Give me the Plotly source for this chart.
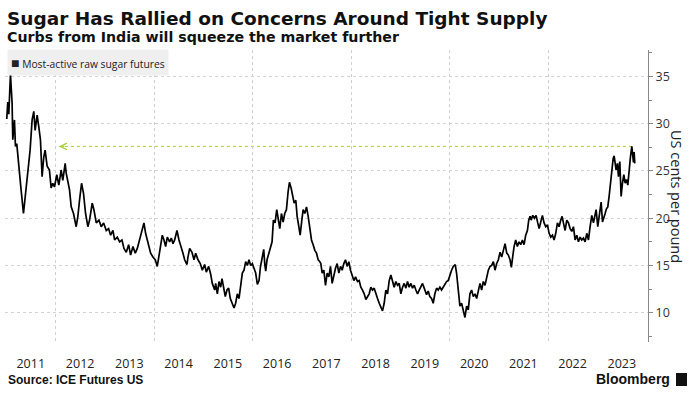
import datetime as dt
import plotly.graph_objects as go

# ---------------- data ----------------
# dates are decimal years, values are US cents per pound
dates = [
    2011.011, 2011.031, 2011.052, 2011.086, 2011.119, 2011.133, 2011.167, 2011.187, 2011.214, 2011.235,
    2011.269, 2011.302, 2011.350, 2011.390, 2011.438, 2011.485, 2011.526, 2011.560, 2011.587, 2011.628,
    2011.661, 2011.695, 2011.729, 2011.763, 2011.790, 2011.831, 2011.878, 2011.912, 2011.946, 2011.980,
    2012.027, 2012.068, 2012.115, 2012.149, 2012.197, 2012.217, 2012.251, 2012.285, 2012.319, 2012.366,
    2012.420, 2012.454, 2012.488, 2012.529, 2012.569, 2012.610, 2012.657, 2012.691, 2012.745, 2012.779,
    2012.827, 2012.881, 2012.928, 2012.976,
    2013.030, 2013.077, 2013.118, 2013.165, 2013.199, 2013.253, 2013.301, 2013.348, 2013.389, 2013.436,
    2013.484, 2013.524, 2013.572, 2013.619, 2013.660, 2013.694, 2013.741, 2013.795, 2013.829, 2013.877,
    2013.931, 2013.978,
    2014.026, 2014.066, 2014.100, 2014.134, 2014.168, 2014.202, 2014.236, 2014.270, 2014.317, 2014.351,
    2014.385, 2014.419, 2014.466, 2014.507, 2014.554, 2014.588, 2014.622, 2014.669, 2014.690, 2014.724,
    2014.771, 2014.812, 2014.846, 2014.893, 2014.940, 2014.981,
    2015.029, 2015.062, 2015.110, 2015.150, 2015.184, 2015.232, 2015.252, 2015.286, 2015.320, 2015.354,
    2015.381, 2015.415, 2015.448, 2015.482, 2015.516, 2015.550, 2015.584, 2015.625, 2015.658, 2015.692,
    2015.726, 2015.760, 2015.794, 2015.828, 2015.862, 2015.896, 2015.929, 2015.963, 2015.997,
    2016.031, 2016.065, 2016.099, 2016.133, 2016.160, 2016.194, 2016.228, 2016.248, 2016.268, 2016.295,
    2016.329, 2016.363, 2016.397, 2016.424, 2016.458, 2016.492, 2016.519, 2016.553, 2016.587, 2016.621,
    2016.654, 2016.688, 2016.722, 2016.749, 2016.783, 2016.810, 2016.844, 2016.878, 2016.905, 2016.939,
    2016.966,
    2017.000, 2017.027, 2017.061, 2017.095, 2017.129, 2017.163, 2017.196, 2017.230, 2017.264, 2017.298,
    2017.332, 2017.366, 2017.386, 2017.413, 2017.447, 2017.481, 2017.515, 2017.549, 2017.582, 2017.616,
    2017.650, 2017.684, 2017.718, 2017.752, 2017.786, 2017.820, 2017.853, 2017.887, 2017.921, 2017.955,
    2017.989,
    2018.023, 2018.057, 2018.091, 2018.131, 2018.165, 2018.199, 2018.233, 2018.267, 2018.301, 2018.334,
    2018.368, 2018.402, 2018.436, 2018.470, 2018.504, 2018.538, 2018.572, 2018.605, 2018.639, 2018.673,
    2018.707, 2018.741, 2018.775, 2018.809, 2018.843, 2018.876, 2018.910, 2018.944, 2018.978,
    2019.012, 2019.046, 2019.080, 2019.114, 2019.147, 2019.181, 2019.215, 2019.249, 2019.283, 2019.317,
    2019.351, 2019.385, 2019.418, 2019.452, 2019.486, 2019.534, 2019.567, 2019.601, 2019.635, 2019.669,
    2019.703, 2019.737, 2019.771, 2019.805, 2019.838, 2019.872, 2019.906, 2019.940, 2019.974,
    2020.008, 2020.042, 2020.076, 2020.116, 2020.143, 2020.177, 2020.211, 2020.245, 2020.279, 2020.313,
    2020.347, 2020.380, 2020.414, 2020.448, 2020.482, 2020.516, 2020.550, 2020.584, 2020.618, 2020.651,
    2020.685, 2020.719, 2020.753, 2020.787, 2020.821, 2020.855, 2020.889, 2020.922, 2020.956, 2020.990,
    2021.024, 2021.058, 2021.092, 2021.126, 2021.160, 2021.193, 2021.227, 2021.254, 2021.281, 2021.309,
    2021.342, 2021.376, 2021.410, 2021.444, 2021.478, 2021.512, 2021.546, 2021.580, 2021.607, 2021.634,
    2021.655, 2021.689, 2021.723, 2021.757, 2021.790, 2021.818, 2021.851, 2021.885, 2021.919, 2021.953,
    2021.987,
    2022.021, 2022.055, 2022.089, 2022.122, 2022.156, 2022.190, 2022.224, 2022.258, 2022.285, 2022.312,
    2022.346, 2022.380, 2022.414, 2022.448, 2022.482, 2022.515, 2022.549, 2022.583, 2022.617, 2022.651,
    2022.685, 2022.719, 2022.752, 2022.786, 2022.820, 2022.854, 2022.888, 2022.922, 2022.956, 2022.976,
    2023.010, 2023.037, 2023.078, 2023.105, 2023.132, 2023.159, 2023.186, 2023.213, 2023.240, 2023.267,
    2023.295, 2023.322, 2023.342, 2023.362, 2023.383, 2023.410, 2023.430, 2023.457, 2023.484, 2023.511,
    2023.539, 2023.566, 2023.593, 2023.620, 2023.647, 2023.674, 2023.701, 2023.721, 2023.735, 2023.748,
    2023.762,
]

prices = [
    30.5, 32.3, 31.0, 35.2, 32.2, 28.3, 30.4, 27.6, 27.9, 26.5,
    25.1, 23.0, 20.5, 22.6, 25.1, 27.2, 30.4, 31.3, 29.3, 30.9,
    29.7, 28.3, 24.4, 26.5, 27.2, 25.5, 25.1, 23.2, 23.7, 23.3,
    24.6, 23.5, 25.1, 24.0, 25.8, 24.8, 23.9, 23.0, 21.2, 20.5,
    19.1, 20.2, 21.9, 23.7, 22.6, 20.5, 19.1, 19.8, 21.6, 20.9,
    19.5, 19.8, 19.1, 19.5,
    18.7, 18.9, 18.2, 18.7, 17.7, 18.0, 17.5, 17.7, 16.8, 16.4,
    17.2, 16.1, 17.0, 16.3, 16.8, 17.5, 18.2, 19.5, 18.4, 17.3,
    16.3, 15.9,
    15.6, 14.9, 15.9, 17.3, 18.2, 17.7, 17.0, 18.0, 17.5, 17.9,
    17.3, 17.7, 18.7, 17.7, 17.0, 16.3, 15.6, 15.1, 15.9, 16.8,
    16.4, 15.6, 16.3, 15.6, 15.2, 14.5,
    15.1, 14.3, 14.9, 14.1, 13.1, 12.4, 13.1, 12.0, 13.3, 12.7,
    13.6, 12.4, 11.7, 12.4, 12.6, 11.5, 11.0, 10.5, 11.0, 12.0,
    11.5, 13.1, 14.2, 14.5, 15.4, 15.0, 15.6, 15.0, 15.2,
    14.7, 14.2, 13.0, 13.4, 14.8, 15.9, 16.7, 15.2, 14.4, 15.6,
    16.3, 17.0, 17.5, 19.8, 19.5, 20.9, 19.8, 18.9, 20.5, 19.6,
    20.5, 20.9, 22.8, 23.8, 23.2, 22.6, 21.6, 21.9, 20.2, 19.1,
    18.2,
    19.8, 20.9, 20.5, 21.2, 20.2, 18.7, 17.7, 17.2, 16.6, 16.3,
    15.6, 15.4, 15.2, 14.2, 14.5, 12.9, 14.2, 13.8, 14.9, 13.1,
    14.0, 14.7, 15.2, 14.2, 14.9, 14.5, 15.2, 15.6, 14.9, 15.4,
    14.5,
    13.8, 13.4, 13.8, 13.3, 13.4, 12.7, 12.4, 12.0, 11.4, 11.7,
    12.0, 12.7, 12.4, 12.6, 11.9, 11.5, 11.0, 10.6, 10.2, 11.0,
    12.4, 12.0, 13.4, 14.0, 13.3, 12.7, 13.3, 12.9, 13.1,
    12.0, 12.7, 13.1, 12.6, 13.3, 12.7, 13.1, 12.6, 12.9, 12.4,
    12.0, 12.4, 12.7, 13.1, 12.6, 11.9, 12.3, 11.7, 11.5, 11.0,
    12.0, 12.6, 12.4, 12.7, 12.4, 12.7, 12.9, 13.3, 13.4,
    14.0, 14.5, 14.9, 15.1, 14.2, 12.4, 10.7, 11.0, 10.1, 9.5,
    10.7, 10.3, 12.0, 12.4, 11.7, 12.0, 11.5, 12.4, 13.1, 12.4,
    13.3, 12.9, 13.8, 14.5, 14.9, 15.0, 15.4, 14.5, 15.2, 15.6,
    16.4, 15.9, 16.6, 17.3, 16.3, 16.1, 15.6, 14.8, 15.9, 17.0,
    17.7, 17.0, 17.5, 17.2, 17.7, 17.2, 18.2, 18.7, 19.8, 20.2,
    19.8, 20.3, 20.0, 20.3, 19.5, 18.9, 19.6, 20.3, 19.5, 19.1,
    19.3,
    18.4, 18.0, 18.2, 17.7, 18.4, 19.5, 19.1, 19.8, 20.2, 19.5,
    18.7, 19.8, 19.5, 18.9, 18.6, 19.1, 17.7, 18.2, 17.5, 18.0,
    17.7, 17.9, 17.5, 18.4, 17.7, 19.1, 20.3, 19.5, 20.5, 20.9,
    19.1, 20.2, 21.7, 19.6, 20.2, 20.5, 21.0, 21.2, 22.3, 23.7,
    24.8, 26.3, 26.6, 25.8, 25.1, 25.8, 24.4, 26.0, 22.3, 23.7,
    24.6, 23.7, 24.1, 23.5, 25.5, 26.5, 27.6, 26.8, 25.9, 27.0,
    25.8,
]

year_labels = [str(y) for y in range(2011, 2024)]
grid_years = [2012, 2014, 2016, 2018, 2020, 2022]
y_ticks = [10, 15, 20, 25, 30, 35]
arrow_start = 2012.07          # left tip of the "highest since" arrow
recent_from = 2023.0           # the guide marks the latest (2023) high
series_name = "Most-active raw sugar futures"

assert len(dates) == len(prices)


def to_dt(y):
    yr = int(y)
    start = dt.datetime(yr, 1, 1)
    end = dt.datetime(yr + 1, 1, 1)
    return start + (end - start) * (y - yr)


x_dates = [to_dt(d) for d in dates]
recent = [(p, d) for d, p in zip(dates, prices) if d >= recent_from]
peak_val, peak_dec = max(recent)
peak_date = to_dt(peak_dec)

# ---------------- layout geometry ----------------
W, H = 693, 395
ML, MR, MT, MB = 5, 45, 50, 53
PW, PH = W - ML - MR, H - MT - MB


def px(xp):
    return (xp - ML) / PW


def py(yp):
    return 1 - (yp - MT) / PH


GREEN = "#a8cc3c"
HEAD_FONT = "DejaVu Sans, Verdana, sans-serif"
BODY_FONT = "Open Sans, Noto Sans, sans-serif"

fig = go.Figure()

fig.add_trace(go.Scatter(
    x=x_dates, y=prices, mode="lines", name=series_name,
    line=dict(color="#000000", width=1.7),
    showlegend=False,
))

# dotted "highest since 2011" guide
fig.add_shape(type="line", xref="x", yref="y",
              x0=to_dt(arrow_start), x1=peak_date, y0=peak_val, y1=peak_val,
              line=dict(color=GREEN, width=1, dash="dot"), layer="below")

fig.update_layout(
    width=W, height=H,
    margin=dict(l=ML, r=MR, t=MT, b=MB),
    paper_bgcolor="white", plot_bgcolor="white",
    font=dict(family=BODY_FONT, color="#222"),
    xaxis=dict(
        type="date",
        range=[to_dt(2010.975), to_dt(2024.03)],
        tickmode="array",
        tickvals=[dt.datetime(int(y), 7, 2) for y in year_labels],
        ticktext=year_labels,
        ticks="outside", ticklen=10, tickcolor="rgba(0,0,0,0)",
        tickfont=dict(size=12.5, color="#222"),
        showgrid=False, showline=False, zeroline=False,
        minor=dict(
            tickmode="array",
            tickvals=[dt.datetime(y, 1, 1) for y in grid_years],
            showgrid=True, gridcolor="#cfcfcf", griddash="dot", gridwidth=1,
            ticks="",
        ),
    ),
    yaxis=dict(
        side="right",
        range=[6.9, 37.8],
        tickmode="array", tickvals=y_ticks,
        ticks="outside", ticklen=4, tickcolor="#888",
        tickfont=dict(size=12.5, color="#333"),
        showline=True, linecolor="#888", linewidth=1,
        showgrid=True, gridcolor="#d3d3d3", griddash="dot", gridwidth=1,
        zeroline=False,
        minor=dict(dtick=2.5, ticks="outside", ticklen=3, tickcolor="#888", showgrid=False),
    ),
    showlegend=False,
)

annotations = [
    dict(text="<b>Sugar Has Rallied on Concerns Around Tight Supply</b>",
         xref="paper", yref="paper", x=px(6), y=py(18), xanchor="left", yanchor="middle",
         showarrow=False, borderpad=0,
         font=dict(family=HEAD_FONT, size=18.5, color="#111")),
    dict(text="<b>Curbs from India will squeeze the market further</b>",
         xref="paper", yref="paper", x=px(6), y=py(37), xanchor="left", yanchor="middle",
         showarrow=False, borderpad=0,
         font=dict(family=HEAD_FONT, size=14.2, color="#111")),
    dict(text="<span style='font-size:14px'>\u25A0</span> " + series_name,
         xref="paper", yref="paper", x=px(7), y=py(62.5), xanchor="left", yanchor="middle",
         showarrow=False, bgcolor="#efefef", borderpad=3,
         font=dict(size=10.3, color="#222")),
    dict(text="US cents per pound", textangle=90,
         xref="paper", yref="paper", x=px(677), y=py(196), xanchor="center", yanchor="middle",
         showarrow=False, font=dict(size=14.5, color="#222")),
    dict(text="<b>Source: ICE Futures US</b>",
         xref="paper", yref="paper", x=px(7), y=py(380), xanchor="left", yanchor="middle",
         showarrow=False, borderpad=0,
         font=dict(family="Liberation Sans, Arial, sans-serif", size=12, color="#111")),
    dict(text="<b>Bloomberg</b>",
         xref="paper", yref="paper", x=px(671), y=py(379), xanchor="right", yanchor="middle",
         showarrow=False, borderpad=0,
         font=dict(family="Liberation Sans, Arial, sans-serif", size=14, color="#111")),
    # open arrow head at the left end of the guide
    dict(text="", x=to_dt(arrow_start), y=peak_val, xref="x", yref="y",
         showarrow=True, ax=7, ay=0, arrowhead=5, arrowsize=1.3, arrowwidth=1,
         arrowcolor=GREEN, standoff=0),
]
fig.update_layout(annotations=annotations)

# small Bloomberg terminal logo mark
fig.add_shape(type="rect", xref="paper", yref="paper",
              x0=px(676), x1=px(687), y0=py(386), y1=py(373),
              fillcolor="#111", line=dict(width=0))

fig.write_html("out.html", config={"displayModeBar": False},
               post_script="document.body.style.margin='0';")
